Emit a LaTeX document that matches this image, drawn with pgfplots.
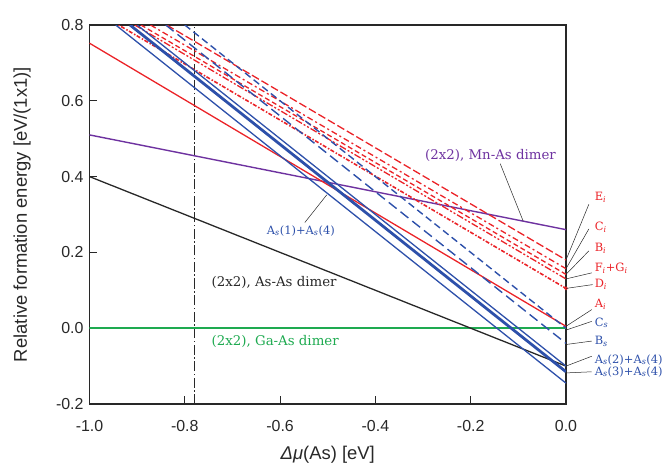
\documentclass[border=0pt]{standalone}
\usepackage{fontspec}
\setmainfont{Liberation Sans}
\newfontfamily\lab{DejaVu Serif}
\usepackage{pgfplots}
\pgfplotsset{compat=1.18}
\definecolor{myred}{RGB}{235,35,40}
\definecolor{myblue}{RGB}{45,80,170}
\definecolor{mypurple}{RGB}{110,50,160}
\definecolor{mygreen}{RGB}{30,170,80}
\definecolor{mygray}{RGB}{40,40,40}
\newcommand{\labsmall}{\lab\fontsize{11.5}{13}\selectfont}
\newcommand{\labbig}{\lab\fontsize{13.4}{15}\selectfont}
\begin{document}
\begin{tikzpicture}
\begin{axis}[
  width=476.5bp, height=379bp, scale only axis,
  xmin=-1, xmax=0, ymin=-0.2, ymax=0.8,
  clip mode=individual,
  axis line style={mygray, line width=1.1bp},
  tick pos=left, tick align=inside,
  major tick length=8bp,
  tick style={mygray, line width=0.9bp},
  xtick={-1,-0.8,-0.6,-0.4,-0.2,0},
  ytick={-0.2,0,0.2,0.4,0.6,0.8},
  /pgf/number format/assume math mode=true,
  /pgf/number format/fixed, /pgf/number format/fixed zerofill,
  /pgf/number format/precision=1,
  ticklabel style={font=\fontsize{16}{18}\selectfont, text=mygray},
  xticklabel style={yshift=-13bp},
  yticklabel style={xshift=-2.5bp},
  xlabel={\textit{Δμ}(As) [eV]},
  ylabel={Relative formation energy [eV/(1x1)]},
  label style={font=\fontsize{18.5}{20}\selectfont, text=mygray},
  xlabel style={at={(axis description cs:0.5,0)}, anchor=center, yshift=-51bp},
  ylabel style={at={(axis description cs:0,0.5)}, anchor=center, xshift=0bp, yshift=67.5bp},
]
\coordinate (SW) at (rel axis cs:0,0);
% vertical dash-dot
\addplot[mygray, line width=0.7bp, dash pattern=on 10bp off 2.5bp on 1.5bp off 2.5bp] coordinates {(-0.78,-0.2) (-0.78,0.8)};
% green Ga-As
\addplot[mygreen, line width=1.6bp] coordinates {(-1,0) (0,0)};
% black As-As
\addplot[mygray, line width=1.3bp] coordinates {(-1,0.40) (0,-0.10)};
% purple Mn-As
\addplot[mypurple, line width=1.4bp] coordinates {(-1,0.51) (0,0.26)};
% red solid A_i
\addplot[myred, line width=1.3bp] coordinates {(-1,0.752) (0,0.005)};
% red dashed interstitials
\addplot[myred, line width=1.3bp, dash pattern=on 8bp off 3bp] coordinates {(-0.838,0.8) (0,0.18)};
\addplot[myred, line width=1.3bp, dash pattern=on 6bp off 3bp on 2bp off 3bp] coordinates {(-0.872,0.8) (0,0.157)};
\addplot[myred, line width=1.3bp, dash pattern=on 5bp off 3bp] coordinates {(-0.892,0.8) (0,0.142)};
\addplot[myred, line width=1.3bp, dash pattern=on 7bp off 2bp on 2bp off 2bp on 2bp off 2bp] coordinates {(-0.905,0.8) (0,0.13)};
\addplot[myred, line width=1.6bp, dash pattern=on 1.5bp off 1.5bp on 4bp off 2bp] coordinates {(-0.939,0.8) (0,0.105)};
\addplot[myred, only marks, mark=*, mark size=1.8bp] coordinates {(0,0.105)};
% blue dashed surface
\addplot[myblue, line width=1.4bp, dash pattern=on 7bp off 4bp] coordinates {(-0.80,0.8) (0,0.0)};
\addplot[myblue, line width=1.4bp, dash pattern=on 10bp off 5bp] coordinates {(-0.84,0.8) (0,-0.04)};
% blue solid
\addplot[myblue, line width=1.3bp] coordinates {(-0.945,0.8) (0,-0.145)};
\addplot[myblue, line width=2.8bp] coordinates {(-0.915,0.8) (0,-0.115)};
\addplot[myblue, line width=1.3bp] coordinates {(-0.90,0.8) (0,-0.10)};
% in-plot labels
\node[anchor=west, text=mypurple, font=\labbig, inner sep=0pt] at (axis cs:-0.296,0.455) {(2x2), Mn-As dimer};
\draw[mygray, line width=0.5bp] (axis cs:-0.138,0.434) -- (axis cs:-0.09,0.283);
\node[anchor=west, text=mygray, font=\labbig, inner sep=0pt] at (axis cs:-0.744,0.12) {(2x2), As-As dimer};
\node[anchor=west, text=mygreen, font=\labbig, inner sep=0pt] at (axis cs:-0.744,-0.034) {(2x2), Ga-As dimer};
\node[anchor=west, text=myblue, font=\labsmall, inner sep=0pt] at (axis cs:-0.628,0.257) {A\textsubscript{\itshape s}(1)+A\textsubscript{\itshape s}(4)};
\draw[mygray, line width=0.5bp] (axis cs:-0.548,0.279) -- (axis cs:-0.502,0.352);
% right labels
\begin{scope}[every node/.style={anchor=west, font=\labsmall, inner sep=0pt}]
\node[text=myred] at (axis cs:0.06,0.345) {E\textsubscript{\itshape i}};
\node[text=myred] at (axis cs:0.06,0.266) {C\textsubscript{\itshape i}};
\node[text=myred] at (axis cs:0.06,0.21) {B\textsubscript{\itshape i}};
\node[text=myred] at (axis cs:0.06,0.159) {F\textsubscript{\itshape i}+G\textsubscript{\itshape i}};
\node[text=myred] at (axis cs:0.06,0.115) {D\textsubscript{\itshape i}};
\node[text=myred] at (axis cs:0.06,0.064) {A\textsubscript{\itshape i}};
\node[text=myblue] at (axis cs:0.06,0.014) {C\textsubscript{\itshape s}};
\node[text=myblue] at (axis cs:0.06,-0.034) {B\textsubscript{\itshape s}};
\node[text=myblue] at (axis cs:0.06,-0.083) {A\textsubscript{\itshape s}(2)+A\textsubscript{\itshape s}(4)};
\node[text=myblue] at (axis cs:0.06,-0.115) {A\textsubscript{\itshape s}(3)+A\textsubscript{\itshape s}(4)};
\end{scope}
\begin{scope}[mygray, line width=0.5bp]
\draw (axis cs:0.048,0.327) -- (axis cs:0,0.18);
\draw (axis cs:0.048,0.262) -- (axis cs:0,0.157);
\draw (axis cs:0.048,0.204) -- (axis cs:0,0.142);
\draw (axis cs:0.054,0.146) -- (axis cs:0,0.13);
\draw (axis cs:0.056,0.115) -- (axis cs:0,0.105);
\draw (axis cs:0.054,0.049) -- (axis cs:0,0.005);
\draw (axis cs:0.054,0.018) -- (axis cs:0,-0.005);
\draw (axis cs:0.054,-0.034) -- (axis cs:0,-0.043);
\draw (axis cs:0.054,-0.074) -- (axis cs:0,-0.10);
\draw (axis cs:0.054,-0.115) -- (axis cs:0,-0.118);
\end{scope}
\end{axis}
\pgfresetboundingbox
\path (SW) ++(-89.5bp,-60bp) rectangle ++(666bp,464bp);
\end{tikzpicture}
\end{document}
